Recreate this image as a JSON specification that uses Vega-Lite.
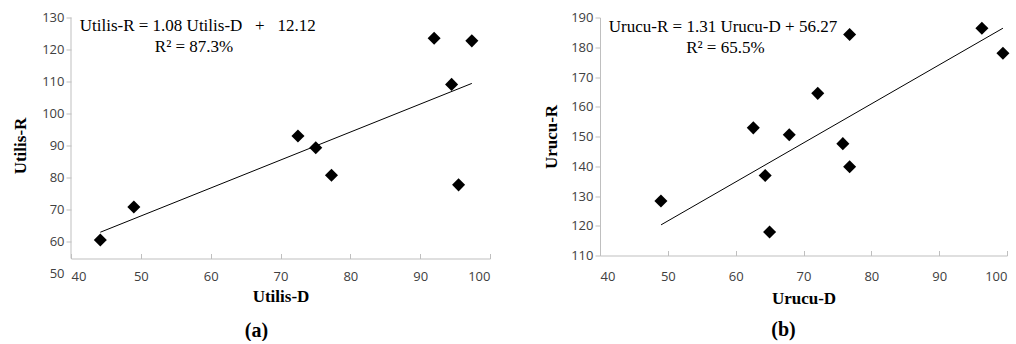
{
  "$schema": "https://vega.github.io/schema/vega-lite/v6.json",
  "padding": {"left": 11, "top": 11.5, "right": 5, "bottom": 0},
  "bounds": "flush",
  "spacing": 110,
  "background": "white",
  "datasets": {
    "a": [
      {"D": 44.2, "R": 60.5}, {"D": 49.0, "R": 70.8}, {"D": 72.5, "R": 93.0},
      {"D": 75.05, "R": 89.3}, {"D": 77.3, "R": 80.7}, {"D": 92.0, "R": 123.5},
      {"D": 94.5, "R": 109.1}, {"D": 95.5, "R": 77.7}, {"D": 97.4, "R": 122.7}
    ],
    "lineA": [{"D": 44.2, "R": 62.9}, {"D": 97.4, "R": 109.4}],
    "b": [
      {"D": 48.98, "R": 128.3}, {"D": 62.6, "R": 152.9}, {"D": 64.35, "R": 136.9},
      {"D": 65.0, "R": 117.9}, {"D": 67.9, "R": 150.6}, {"D": 72.1, "R": 164.5},
      {"D": 75.8, "R": 147.6}, {"D": 76.8, "R": 139.8}, {"D": 76.8, "R": 184.3},
      {"D": 96.3, "R": 186.4}, {"D": 99.4, "R": 178.0}
    ],
    "lineB": [{"D": 49.0, "R": 120.3}, {"D": 99.4, "R": 186.4}],
    "one": [{}]
  },
  "hconcat": [
    {
      "width": 419,
      "height": 256,
      "title": {"text": "(a)", "orient": "bottom", "anchor": "middle", "frame": "group", "dx": -24, "offset": 16, "font": "Liberation Serif", "fontSize": 20, "fontWeight": "bold", "color": "black"},
      "layer": [
        {
          "data": {"name": "a"},
          "mark": {"type": "point", "shape": "diamond", "filled": true, "color": "black", "opacity": 1, "size": 170},
          "encoding": {
            "x": {"field": "D", "type": "quantitative", "scale": {"domain": [40, 100], "nice": false, "zero": false},
              "axis": {"title": "Utilis-D", "values": [40, 50, 60, 70, 80, 90, 100], "labelOverlap": false, "offset": -15, "tickSize": -5, "labelPadding": 17, "titlePadding": 5}},
            "y": {"field": "R", "type": "quantitative", "scale": {"domain": [50, 130], "nice": false, "zero": false},
              "axis": {"title": "Utilis-R", "values": [50, 60, 70, 80, 90, 100, 110, 120, 130], "labelOverlap": false, "domain": false, "tickSize": 5, "labelPadding": 2, "titlePadding": 12,
                "tickColor": {"condition": {"test": "datum.value == 50", "value": "transparent"}, "value": "#bfbfbf"}}}
          }
        },
        {
          "data": {"name": "one"},
          "mark": {"type": "rule", "color": "#bfbfbf", "strokeWidth": 1},
          "encoding": {"x": {"datum": 40, "axis": {"values": [40, 50, 60, 70, 80, 90, 100]}}, "y": {"datum": 54.7, "axis": {"values": [50, 60, 70, 80, 90, 100, 110, 120, 130]}}, "y2": {"datum": 130}}
        },
        {
          "data": {"name": "lineA"},
          "mark": {"type": "line", "color": "black", "strokeWidth": 1},
          "encoding": {"x": {"field": "D", "type": "quantitative", "axis": {"values": [40, 50, 60, 70, 80, 90, 100]}}, "y": {"field": "R", "type": "quantitative", "axis": {"values": [50, 60, 70, 80, 90, 100, 110, 120, 130]}}}
        },
        {
          "data": {"name": "one"},
          "mark": {"type": "text", "text": "Utilis-R = 1.08 Utilis-D \u00a0 + \u00a0 12.12", "align": "left", "baseline": "middle", "font": "Liberation Serif", "fontSize": 17, "color": "black"},
          "encoding": {"x": {"datum": 41.25, "axis": {"values": [40, 50, 60, 70, 80, 90, 100]}}, "y": {"datum": 127.3, "axis": {"values": [50, 60, 70, 80, 90, 100, 110, 120, 130]}}}
        },
        {
          "data": {"name": "one"},
          "mark": {"type": "text", "text": "R² = 87.3%", "align": "left", "baseline": "middle", "font": "Liberation Serif", "fontSize": 17, "color": "black"},
          "encoding": {"x": {"datum": 52.0, "axis": {"values": [40, 50, 60, 70, 80, 90, 100]}}, "y": {"datum": 120.7, "axis": {"values": [50, 60, 70, 80, 90, 100, 110, 120, 130]}}}
        }
      ]
    },
    {
      "width": 407,
      "height": 238,
      "title": {"text": "(b)", "orient": "bottom", "anchor": "middle", "frame": "group", "dx": -20, "offset": 13, "font": "Liberation Serif", "fontSize": 20, "fontWeight": "bold", "color": "black"},
      "layer": [
        {
          "data": {"name": "b"},
          "mark": {"type": "point", "shape": "diamond", "filled": true, "color": "black", "opacity": 1, "size": 170},
          "encoding": {
            "x": {"field": "D", "type": "quantitative", "scale": {"domain": [40, 100], "nice": false, "zero": false},
              "axis": {"title": "Urucu-D", "values": [40, 50, 60, 70, 80, 90, 100], "labelOverlap": false, "tickSize": -5, "labelPadding": 20, "titlePadding": 7}},
            "y": {"field": "R", "type": "quantitative", "scale": {"domain": [110, 190], "nice": false, "zero": false},
              "axis": {"title": "Urucu-R", "values": [110, 120, 130, 140, 150, 160, 170, 180, 190], "labelOverlap": false, "tickSize": 5, "labelPadding": 2, "titlePadding": 10}}
          }
        },
        {
          "data": {"name": "lineB"},
          "mark": {"type": "line", "color": "black", "strokeWidth": 1},
          "encoding": {"x": {"field": "D", "type": "quantitative", "axis": {"values": [40, 50, 60, 70, 80, 90, 100]}}, "y": {"field": "R", "type": "quantitative", "axis": {"values": [110, 120, 130, 140, 150, 160, 170, 180, 190]}}}
        },
        {
          "data": {"name": "one"},
          "mark": {"type": "text", "text": "Urucu-R = 1.31 Urucu-D + 56.27", "align": "left", "baseline": "middle", "font": "Liberation Serif", "fontSize": 17, "color": "black"},
          "encoding": {"x": {"datum": 41.3, "axis": {"values": [40, 50, 60, 70, 80, 90, 100]}}, "y": {"datum": 186.7, "axis": {"values": [110, 120, 130, 140, 150, 160, 170, 180, 190]}}}
        },
        {
          "data": {"name": "one"},
          "mark": {"type": "text", "text": "R² = 65.5%", "align": "left", "baseline": "middle", "font": "Liberation Serif", "fontSize": 17, "color": "black"},
          "encoding": {"x": {"datum": 52.7, "axis": {"values": [40, 50, 60, 70, 80, 90, 100]}}, "y": {"datum": 179.7, "axis": {"values": [110, 120, 130, 140, 150, 160, 170, 180, 190]}}}
        }
      ]
    }
  ],
  "config": {
    "view": {"stroke": null},
    "axis": {"grid": false, "labelOverlap": false, "domainColor": "#bfbfbf", "tickColor": "#bfbfbf", "labelColor": "#404040", "labelFont": "Open Sans", "labelFontSize": 13,
      "titleFont": "Liberation Serif", "titleFontSize": 17, "titleFontWeight": "bold", "titleColor": "black"}
  }
}
